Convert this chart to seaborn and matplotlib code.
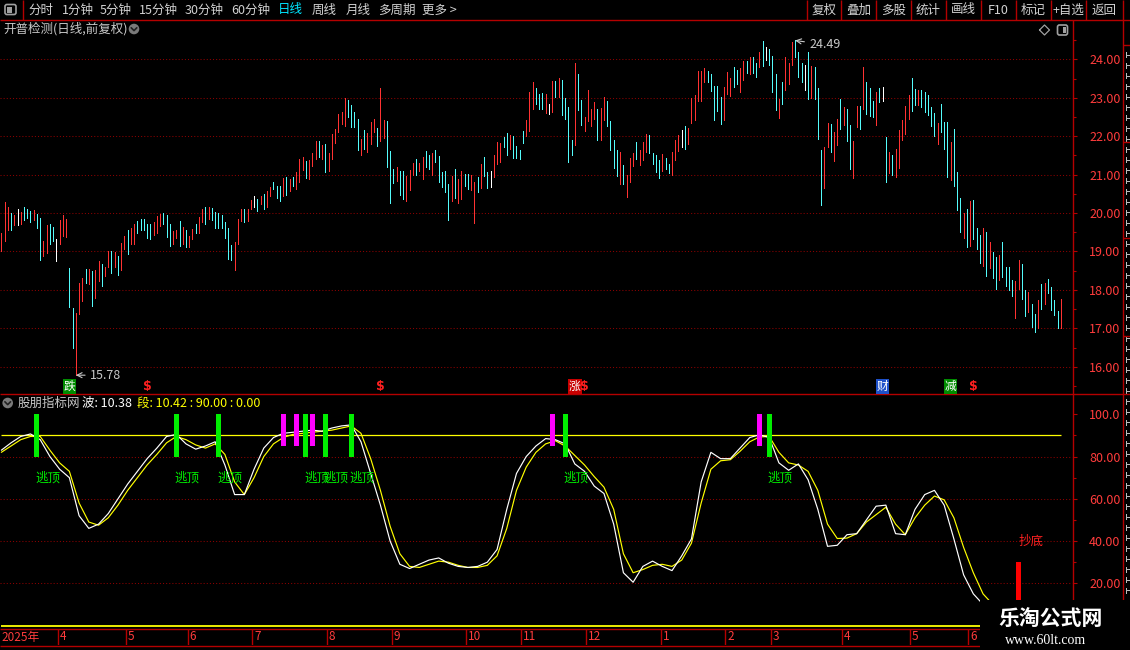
import numpy as np
import pandas as pd
import matplotlib
matplotlib.use("Agg")
import matplotlib.pyplot as plt
import matplotlib.transforms as mtransforms
from matplotlib.patches import Rectangle, FancyBboxPatch, Circle
import seaborn as sns

# ---------------- data ----------------
stock_title = "开普检测(日线,前复权)"
indicator_name = "股朋指标网"

high = [19.48,20.29,20.16,20.00,19.96,20.11,20.03,20.16,20.11,20.06,
        20.09,19.98,19.88,19.28,19.68,19.72,19.64,19.33,19.81,19.96,
        19.85,18.58,17.54,17.41,18.19,18.31,18.54,18.54,18.49,18.51,
        18.74,18.68,18.60,19.00,19.02,18.99,18.89,19.21,19.41,19.57,
        19.62,19.71,19.80,19.85,19.85,19.72,19.72,19.76,19.93,19.98,
        20.00,19.96,19.72,19.52,19.55,19.80,19.64,19.57,19.41,19.59,
        19.72,19.90,20.11,20.16,20.16,20.14,20.03,20.01,19.94,19.76,
        19.61,19.16,19.24,19.84,20.10,20.10,20.10,20.34,20.44,20.36,
        20.44,20.49,20.57,20.68,20.81,20.70,20.70,20.91,20.94,20.88,
        20.94,21.07,21.40,21.46,21.35,21.38,21.56,21.87,21.87,21.77,
        21.80,21.56,22.06,22.19,22.58,22.63,22.99,22.94,22.81,22.63,
        22.45,21.93,22.16,22.08,22.37,22.45,22.21,23.25,22.42,22.39,
        21.61,21.14,21.20,21.09,21.09,20.96,21.12,21.30,21.40,21.30,
        21.46,21.61,21.51,21.56,21.64,21.48,21.07,21.09,20.75,20.96,
        21.14,20.88,21.09,21.01,21.01,20.99,20.81,20.94,21.28,21.46,
        21.07,21.09,21.51,21.85,21.82,21.98,22.08,22.03,22.00,21.74,
        21.64,22.14,22.42,23.15,23.41,23.25,23.10,23.12,23.10,22.84,
        23.44,23.44,23.51,23.46,22.99,22.76,21.90,23.90,23.62,22.94,
        22.50,23.20,22.71,22.89,22.71,22.73,23.02,22.91,22.39,21.90,
        21.64,21.59,21.25,20.99,21.43,21.56,21.85,21.64,21.85,22.06,
        22.03,21.56,21.51,21.38,21.53,21.43,21.27,21.59,21.90,22.03,
        22.16,22.26,22.21,22.99,23.07,23.70,23.70,23.77,23.70,23.62,
        23.31,23.31,23.02,23.28,23.67,23.51,23.80,23.72,23.77,23.96,
        23.96,24.06,24.06,23.90,24.19,24.48,24.32,24.27,24.09,23.62,
        22.97,23.41,24.06,23.90,24.46,24.49,24.19,23.90,23.85,24.19,
        23.83,23.80,23.25,21.64,21.72,22.34,22.32,22.11,22.45,22.97,
        22.76,22.71,22.29,21.88,22.79,22.79,23.80,23.41,23.25,22.92,
        23.15,23.25,23.28,21.98,21.59,21.51,21.67,22.16,22.42,22.79,
        23.07,23.51,23.23,23.20,23.20,23.15,23.07,22.76,22.60,22.34,
        22.84,22.37,22.37,21.85,22.19,21.07,20.39,20.00,20.10,20.31,
        20.34,19.61,19.43,19.61,19.51,19.25,18.99,18.86,18.91,19.25,
        18.60,18.60,18.26,18.23,18.78,18.67,18.00,17.95,17.63,17.37,
        17.74,18.15,18.18,18.28,18.07,17.74,17.45,17.76]

low = [19.02,19.26,19.57,19.57,19.68,19.68,19.71,19.81,19.86,19.77,
       19.81,19.60,18.79,18.87,18.97,19.20,19.26,18.76,19.20,19.41,
       19.38,17.56,16.48,15.78,17.37,17.72,18.19,18.16,17.59,17.79,
       18.24,18.11,18.36,18.59,18.44,18.59,18.40,18.52,19.06,18.94,
       19.20,19.20,19.47,19.55,19.57,19.34,19.33,19.43,19.47,19.65,
       19.72,19.38,19.13,19.20,19.36,19.13,19.20,19.11,19.11,19.33,
       19.47,19.47,19.76,19.72,19.84,19.83,19.62,19.62,19.61,19.35,
       18.80,18.77,18.51,19.19,19.79,19.76,19.79,20.10,20.15,20.05,
       20.23,20.10,20.15,20.44,20.62,20.39,20.31,20.44,20.47,20.57,
       20.70,20.62,20.81,21.12,20.91,20.88,21.22,21.40,21.46,21.40,
       21.07,21.09,21.40,21.82,22.11,22.32,22.27,22.50,22.24,22.24,
       21.64,21.51,21.66,21.59,21.80,22.11,21.74,21.87,21.95,21.20,
       20.26,20.78,20.83,20.47,20.36,20.31,20.60,20.99,20.99,21.09,
       20.88,21.20,21.14,20.99,21.33,20.81,20.68,20.55,19.82,20.31,
       20.39,20.26,20.36,20.70,20.62,20.60,19.74,20.55,20.65,20.96,
       20.65,20.68,20.94,21.27,21.33,21.72,21.51,21.66,21.43,21.43,
       21.40,21.82,22.00,22.13,22.71,22.84,22.71,22.71,22.60,22.58,
       22.63,23.02,23.02,22.55,22.45,21.33,21.51,21.77,22.68,22.29,
       22.13,22.39,22.26,22.45,21.90,21.90,22.42,22.26,21.64,21.17,
       20.96,20.75,20.75,20.42,20.81,21.22,21.40,21.25,21.38,21.59,
       21.56,21.27,21.07,20.91,21.09,21.14,21.04,20.99,21.38,21.61,
       21.72,21.66,21.80,22.34,22.42,22.91,22.91,23.41,23.41,23.18,
       22.42,22.65,22.32,22.42,23.10,23.05,23.28,23.36,23.15,23.46,
       23.64,23.62,23.64,23.54,23.80,23.83,23.98,23.85,23.15,22.68,
       22.47,22.84,23.20,23.36,23.85,24.06,23.54,23.41,23.20,22.97,
       22.99,22.97,21.93,20.21,20.65,21.72,21.59,21.35,21.77,22.19,
       22.29,21.87,21.15,20.91,22.24,22.19,22.71,22.58,22.53,22.50,
       22.29,22.89,22.92,20.81,21.04,20.99,20.94,21.17,21.90,22.06,
       22.45,22.66,22.81,22.81,22.76,22.63,22.55,22.27,22.01,21.80,
       22.11,21.67,20.94,20.86,20.70,20.08,19.51,19.35,19.12,19.14,
       19.33,19.07,18.70,18.62,18.36,18.57,18.31,18.02,18.26,18.34,
       18.10,18.00,17.84,17.27,18.02,17.76,17.32,17.43,17.04,16.91,
       17.01,17.50,17.63,17.92,17.48,17.35,17.01,17.01]

# r = up (red), c = down (cyan), w = flat (white)
kind = ("rrrcrwrccc" "rccrrccwrr" "rccrrrcrcr" "rcrrcrcrrc" "rrcccccrrr"
        "cccrrcrcrr" "crrcrccccc" "ccrrrcrrwc" "rcrrcccrcr" "crrrcrrrcr"
        "crrrrrrccc" "crcrrrcrrc" "ccrccrrrcr" "rccrcccccr" "crrccrrcrc"
        "cwrrrccrcc" "ccrrrcccrw" "rcrccccrcc" "rrrrcrrccc" "crcrrrcrrr"
        "ccccrccrrr" "wcrrrrrrcc" "cccrrrccrr" "crccrcwccc" "rcrrrcccwc"
        "rcccrrcrrc" "rccrrcrccc" "rcwcrcrrrr" "rccrcccccr" "cccrcccrcr"
        "cccrcrccrc" "cccrrccrcc" "rcrccccr")

year_label = "2025年"
month_first_bar = [18, 39, 58, 78, 101, 121, 144, 161, 181, 204, 224, 238, 260, 281, 299]
month_labels = ["4", "5", "6", "7", "8", "9", "10", "11", "12", "1", "2", "3", "4", "5", "6"]

ind_bars = list(range(0, 328, 3))
wave = [83, 86.5, 89.5, 90.7, 88, 80, 74, 70, 52, 46,
        48, 53, 60, 67, 73, 79, 84, 89.5, 90.5, 86,
        83.5, 85, 87, 76, 62, 62, 74, 84, 89, 91,
        91.5, 92, 92.5, 92, 93.5, 94.5, 95, 87, 72, 57,
        40, 29, 27, 29, 31, 32, 29.5, 28, 27.5, 28,
        30, 36, 55, 72, 80, 85, 88.5, 88, 86, 76.5,
        73, 66, 62.5, 48, 25, 20.5, 28, 30.5, 28, 26,
        33, 41, 68, 82, 79, 79, 84, 89, 90.3, 89,
        77, 73.5, 76.5, 69, 55, 37.5, 38, 43, 43.5, 50,
        56.5, 57, 43.5, 43, 55, 62, 64, 57, 41, 24,
        15, 10, 7, 5.5, 5.5, 6.5, 7, 10, 11, 10.38]
seg = [82, 85, 88, 89.5, 89.5, 83, 77, 73, 58, 49,
       47.5, 51, 57, 64, 70, 76, 81, 86.5, 89.5, 88,
       85.5, 84, 86, 81, 68, 62, 70, 80, 86, 89,
       90.5, 91, 91.5, 92, 92.5, 93.5, 94.5, 91, 79, 64,
       47, 34, 28, 27.5, 29, 30.5, 30, 28.5, 27.5, 27.5,
       28.5, 33, 46, 64, 75, 82, 86, 87.5, 85, 80.5,
       76, 70.5, 65.5, 55, 34, 25, 26.5, 28.5, 29, 28,
       31, 39, 58, 74, 78, 78.5, 82.5, 87, 89.3, 89.5,
       82, 77, 76, 73, 64, 48, 41.2, 41.4, 43.5, 49,
       52.5, 56, 48, 43, 51, 57, 61.3, 59.5, 51, 37,
       25, 15, 10, 6.5, 5.5, 6, 6.5, 8, 10, 10.42]
seg_level = 90.0
zero_level = 0.0

top_signal_bars = [11, 54, 67, 94, 100, 108, 174, 237]     # 逃顶
warn_signal_bars = [87, 91, 96, 170, 234]                  # magenta
bottom_signal_bars = [314]                                 # 抄底

event_bars = [21, 177, 272, 293]
event_text = ["跌", "涨", "财", "减"]
event_color = ["#008c00", "#c80000", "#1e50c8", "#008c00"]
dollar_bars = [45, 117, 180, 300]

price_ticks = [16, 17, 18, 19, 20, 21, 22, 23, 24]
ind_ticks = [20, 40, 60, 80, 100]

toolbar_left = ["分时", "1分钟", "5分钟", "15分钟", "30分钟", "60分钟", "日线", "周线", "月线", "多周期", "更多 >"]
toolbar_right = ["复权", "叠加", "多股", "统计", "画线", "F10", "标记", "+自选", "返回"]

# ---------------- style ----------------
sns.set_theme(style="dark")
plt.rcParams['font.family'] = ['Noto Sans CJK SC', 'DejaVu Sans']
plt.rcParams['axes.unicode_minus'] = False

FRAME = "#b40000"
GRID = "#8c0000"
AXTXT = "#ff3c3c"
UP = "#ff3232"
DOWN = "#54fcfc"
FLAT = "#ffffff"
YELLOW = "#ffff00"
GREEN = "#00ee00"
MAGENTA = "#ff00ff"
GREYTXT = "#c8c8c8"

W, H = 1130, 650
fig = plt.figure(figsize=(W / 100, H / 100), dpi=100, facecolor="black")


def fr(x0, y0, x1, y1):
    return [x0 / W, 1 - y1 / H, (x1 - x0) / W, (y1 - y0) / H]


BAR_PX, FIRST_PX, PLOT_R = 3.24, 1.33, 1072.5
xlim = (-FIRST_PX / BAR_PX, (PLOT_R - FIRST_PX) / BAR_PX)

bg = fig.add_axes([0, 0, 1, 1], zorder=0)
bg.set_xlim(0, W); bg.set_ylim(H, 0); bg.axis("off")
bg.set_facecolor("black")

axp = fig.add_axes(fr(0, 20, PLOT_R, 393), zorder=2)
axi = fig.add_axes(fr(0, 395, PLOT_R, 627), zorder=2)
axd = fig.add_axes(fr(0, 629, PLOT_R, 645), zorder=2)
top = fig.add_axes([0, 0, 1, 1], zorder=6)
top.set_xlim(0, W); top.set_ylim(H, 0); top.axis("off")
top.patch.set_alpha(0)

for ax in (axp, axi, axd):
    ax.set_facecolor("none")
    for s in ax.spines.values():
        s.set_visible(False)
    ax.set_xlim(*xlim)
    ax.grid(False)
    ax.tick_params(axis="x", bottom=False, labelbottom=False, top=False)

# price axis scale: 24 -> y59.3, 17 -> y328.3
ppx = (328.3 - 59.3) / 7
axp.set_ylim(24 - (393 - 59.3) / ppx, 24 + (59.3 - 20) / ppx)
ipx = (583.3 - 414.3) / 80
axi.set_ylim(100 - (627 - 414.3) / ipx, 100 + (414.3 - 395) / ipx)
axd.set_ylim(0, 1)
axd.tick_params(axis="y", left=False, right=False, labelleft=False)

for ax, ticks, labels, minors in (
        (axp, price_ticks, [f"{v:.2f}" for v in price_ticks], [v + 0.5 for v in price_ticks[:-1]] + [15.5, 24.5]),
        (axi, ind_ticks, [f"{v:.2f}" if v < 100 else "100.0" for v in ind_ticks], [10, 30, 50, 70, 90])):
    ax.yaxis.tick_right()
    ax.set_yticks(ticks)
    ax.set_yticklabels(labels)
    ax.set_yticks(minors, minor=True)
    ax.tick_params(axis="y", which="major", right=True, left=False, length=3, width=0.8,
                   color=FRAME, pad=9, labelsize=9, labelcolor=AXTXT)
    ax.tick_params(axis="y", which="minor", right=True, left=False, length=2, width=0.8, color=FRAME)

# grid
axp.hlines(price_ticks, xlim[0], xlim[1] - 0.3, colors=GRID, linestyles=(0, (1, 2)), linewidth=0.75)
axi.hlines([20, 40, 60, 80], xlim[0], xlim[1] - 0.3, colors=GRID, linestyles=(0, (1, 2)), linewidth=0.75)

# candles (thin 1px bars, as the terminal draws them at this zoom)
n = len(high)
idx = np.arange(n)
cmap = {"r": UP, "c": DOWN, "w": FLAT}
cols = [cmap[k] for k in kind]
axp.vlines(idx, low, high, colors=cols, linewidth=0.5, antialiased=False)

lo_i = int(np.argmin(low)); hi_i = int(np.argmax(high))
axp.annotate(f"{low[lo_i]:.2f}", xy=(lo_i, low[lo_i]), xytext=(10, 0), textcoords="offset points",
             ha="left", va="center", color=GREYTXT, fontsize=9,
             arrowprops=dict(arrowstyle="->", color=GREYTXT, lw=0.8, shrinkA=1, shrinkB=0))
axp.annotate(f"{high[hi_i]:.2f}", xy=(hi_i, high[hi_i]), xytext=(10, -3), textcoords="offset points",
             ha="left", va="center", color=GREYTXT, fontsize=9,
             arrowprops=dict(arrowstyle="->", color=GREYTXT, lw=0.8, shrinkA=1, shrinkB=0))

trans_p = mtransforms.blended_transform_factory(axp.transData, axp.transAxes)
for b, t, c in zip(event_bars, event_text, event_color):
    axp.text(b, 0.018, t, transform=trans_p, ha="center", va="center", color="white", fontsize=8.5,
             bbox=dict(boxstyle="square,pad=0.08", fc=c, ec="none"))
for b in dollar_bars:
    axp.text(b, 0.018, "$", transform=trans_p, ha="center", va="center", color="#ff2020",
             fontsize=9, fontweight="bold", family="DejaVu Sans")

# indicator
df = pd.DataFrame({"bar": ind_bars, "wave": wave, "seg": seg})
axi.hlines(seg_level, 0, n - 1, colors=YELLOW, linewidth=0.9)
axi.hlines(zero_level, 0, n - 1, colors=YELLOW, linewidth=1.3)
sns.lineplot(data=df, x="bar", y="seg", ax=axi, color=YELLOW, linewidth=0.85, estimator=None, sort=False)
sns.lineplot(data=df, x="bar", y="wave", ax=axi, color="white", linewidth=0.85, estimator=None, sort=False)
axi.set_xlabel(""); axi.set_ylabel("")
axi.set_xlim(*xlim)

axi.bar(top_signal_bars, 20, bottom=80, width=1.55, color=GREEN, linewidth=0, zorder=4)
axi.bar(warn_signal_bars, 15, bottom=85, width=1.55, color=MAGENTA, linewidth=0, zorder=4)
axi.bar(bottom_signal_bars, 30, bottom=0, width=1.55, color="#ff0000", linewidth=0, zorder=4)
for b in top_signal_bars:
    axi.text(b - 0.45, 70.0, "逃顶", color=GREEN, fontsize=9, ha="left", va="center")
for b in bottom_signal_bars:
    axi.text(b - 0.1, 40, "抄底", color="#ff2020", fontsize=9, ha="left", va="center")

# date axis
axd.vlines([m - 0.5 for m in month_first_bar], 0, 1, colors=FRAME, linewidth=1)
axd.text(xlim[0] + 0.4, 0.5, year_label, color=AXTXT, fontsize=8.5, ha="left", va="center")
for m, lbl in zip(month_first_bar, month_labels):
    axd.text(m - 0.5 + 0.6, 0.5, lbl, color=AXTXT, fontsize=8.5, ha="left", va="center")

# ---------------- frame (pixel coords) ----------------
bg.hlines([19.5], 0, W, colors=FRAME, linewidth=1)
bg.vlines([22.5], 0, 19.5, colors=FRAME, linewidth=1)
seps = [807, 841, 876, 911, 946, 981, 1016, 1051, 1086, 1123]
bg.vlines(seps, 0, 19.5, colors=FRAME, linewidth=1)
bg.vlines([1073, 1123], 19.5, H, colors=FRAME, linewidth=1)
bg.hlines([393.5], 0, W, colors=FRAME, linewidth=1)
bg.hlines([628.5, 645.5], 0, 1073, colors=FRAME, linewidth=1)
bg.hlines([45, 142, 238, 336], 1123, W, colors=FRAME, linewidth=1)

# right strip: edges of the neighbouring quote panel
for y in np.arange(52, 598, 10.5):
    bg.add_patch(Rectangle((1125.5, y), 1.2, 6, fc="#bdbdbd", ec="none"))
    bg.add_patch(Rectangle((1125.5, y + 2.5), 4.5, 1.0, fc="#bdbdbd", ec="none"))

# toolbar texts
tl_x = [28, 62, 100, 139, 185, 231, 278, 312, 346, 378, 422]
for x, t in zip(tl_x, toolbar_left):
    top.text(x, 10, t, color="#00e5ff" if t == "日线" else "#d2d2d2", fontsize=9, ha="left", va="center")
for i, t in enumerate(toolbar_right):
    top.text((seps[i] + seps[i + 1]) / 2, 10, t, color="#d2d2d2", fontsize=9, ha="center", va="center")

# icons
top.add_patch(FancyBboxPatch((5, 4.5), 11, 10, boxstyle="round,pad=0,rounding_size=2",
                             fc="none", ec="#a0a0a0", lw=1.2))
top.add_patch(Rectangle((7, 6.5), 5, 6, fc="#a0a0a0", ec="none"))
top.add_patch(FancyBboxPatch((1057.5, 25), 10, 10, boxstyle="round,pad=0,rounding_size=2",
                             fc="none", ec="#a0a0a0", lw=1.2))
top.add_patch(Rectangle((1063, 27), 3, 6, fc="#a0a0a0", ec="none"))
top.plot([1039.5, 1044.5, 1049.5, 1044.5, 1039.5], [30, 25, 30, 35, 30], color="#a0a0a0", lw=0.9)

for cx, cy in ((134, 29), (7.7, 403)):
    top.add_patch(Circle((cx, cy), 5.3, fc="#7a7a7a", ec="none"))
    top.plot([cx - 2.8, cx, cx + 2.8], [cy - 1.2, cy + 1.6, cy - 1.2], color="#202020", lw=1.2)

# titles
top.text(3, 29, stock_title, color=GREYTXT, fontsize=9, ha="left", va="center")
top.text(18, 403, indicator_name, color=GREYTXT, fontsize=9, ha="left", va="center")
top.text(82, 403, f"波: {wave[-1]:.2f}", color="white", fontsize=9, ha="left", va="center")
top.text(137, 403, f"段: {seg[-1]:.2f} : {seg_level:.2f} : {zero_level:.2f}", color=YELLOW,
         fontsize=9, ha="left", va="center")

# watermark
top.add_patch(Rectangle((980, 600), W - 980, H - 600, fc="black", ec="none", zorder=10))
top.text(1051, 618, "乐淘公式网", color="white", fontsize=15, fontweight="bold",
         ha="center", va="center", zorder=11)
top.text(1046, 640, "www.60lt.com", color="white", fontsize=10, family="Liberation Serif",
         ha="center", va="center", zorder=11)

fig.savefig("out.png", dpi=100, facecolor="black")
